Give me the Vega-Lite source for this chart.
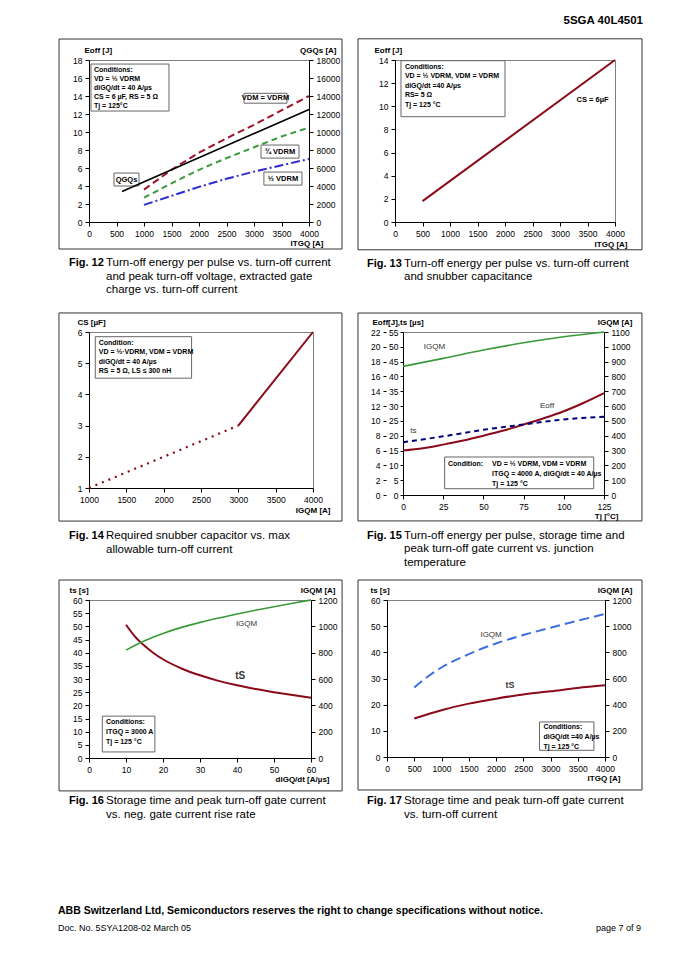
{
"$schema":"https://vega.github.io/schema/vega-lite/v6.json",
"background":"white",
"padding":{"left":57,"top":15,"right":38,"bottom":5},
"title":{"text":"5SGA 40L4501","anchor":"end","fontSize":11.5,"fontWeight":"bold","offset":11,"frame":"bounds"},
"spacing":9,
"vconcat":[
{"spacing":14,"vconcat":[
{"hconcat":[
{"width":220,"height":162,"data":{"values":[{}]},
"title":{"text":["Turn-off energy per pulse vs. turn-off current","and peak turn-off voltage, extracted gate","charge vs. turn-off current"],"orient":"bottom","anchor":"start","frame":"group","dx":17,"offset":-11,"fontSize":11.5,"fontWeight":"normal","lineHeight":13.5,"limit":0},
"layer":[
{"layer":[
{"mark":{"type":"rect","fillOpacity":0,"stroke":"#333","strokeWidth":1},"encoding":{"x":{"datum":-545,"type":"quantitative"},"x2":{"datum":4600},"y":{"datum":-3.0,"type":"quantitative"},"y2":{"datum":20.33}}},
{"data":{"values":[
{"I":1000,"E":3.6,"s":"VDM = VDRM"},{"I":1500,"E":5.8,"s":"VDM = VDRM"},{"I":2000,"E":7.7,"s":"VDM = VDRM"},{"I":2500,"E":9.3,"s":"VDM = VDRM"},{"I":3000,"E":10.8,"s":"VDM = VDRM"},{"I":3500,"E":12.4,"s":"VDM = VDRM"},{"I":4000,"E":14.0,"s":"VDM = VDRM"},
{"I":1000,"E":2.7,"s":"3/4 VDRM"},{"I":1500,"E":4.3,"s":"3/4 VDRM"},{"I":2000,"E":5.8,"s":"3/4 VDRM"},{"I":2500,"E":7.1,"s":"3/4 VDRM"},{"I":3000,"E":8.3,"s":"3/4 VDRM"},{"I":3500,"E":9.5,"s":"3/4 VDRM"},{"I":4000,"E":10.5,"s":"3/4 VDRM"},
{"I":1000,"E":1.9,"s":"1/2 VDRM"},{"I":1500,"E":2.9,"s":"1/2 VDRM"},{"I":2000,"E":3.9,"s":"1/2 VDRM"},{"I":2500,"E":4.8,"s":"1/2 VDRM"},{"I":3000,"E":5.6,"s":"1/2 VDRM"},{"I":3500,"E":6.3,"s":"1/2 VDRM"},{"I":4000,"E":7.0,"s":"1/2 VDRM"}]},
"mark":{"type":"line","strokeWidth":2},
"encoding":{
"x":{"field":"I","type":"quantitative","title":"ITGQ [A]","scale":{"domain":[0,4000],"nice":false,"zero":false},"axis":{"values":[0,500,1000,1500,2000,2500,3000,3500,4000],"tickCount":100,"format":"d","titleX":234,"titleY":17}},
"y":{"field":"E","type":"quantitative","title":"Eoff [J]","scale":{"domain":[0,18],"nice":false},"axis":{"values":[0,2,4,6,8,10,12,14,16,18],"tickCount":100,"format":"d","titleX":-5,"titleY":-6}},
"color":{"field":"s","type":"nominal","scale":{"domain":["VDM = VDRM","3/4 VDRM","1/2 VDRM"],"range":["#a0102a","#3a9a3a","#2b2bd0"]},"legend":null},
"strokeDash":{"field":"s","type":"nominal","scale":{"domain":["VDM = VDRM","3/4 VDRM","1/2 VDRM"],"range":[[7,4],[6,4],[9,3,2,3]]},"legend":null}}},
{"mark":{"type":"rect","fill":"white","stroke":"#666","strokeWidth":1},"encoding":{"x":{"datum":36,"type":"quantitative"},"x2":{"datum":1454},"y":{"datum":12.33,"type":"quantitative"},"y2":{"datum":17.55}}},
{"mark":{"type":"text","text":["Conditions:","VD = ½ VDRM","diGQ/dt = 40 A/µs","CS = 6 µF, RS = 5 Ω","Tj = 125°C"],"align":"left","baseline":"top","fontSize":7,"fontWeight":"bold","lineHeight":9},"encoding":{"x":{"datum":90,"type":"quantitative"},"y":{"datum":17.3,"type":"quantitative"}}},
{"mark":{"type":"rect","fill":"white","stroke":"#666","strokeWidth":1},"encoding":{"x":{"datum":2818,"type":"quantitative"},"x2":{"datum":3600},"y":{"datum":13.2,"type":"quantitative"},"y2":{"datum":14.3}}},
{"mark":{"type":"text","text":"VDM = VDRM","align":"center","baseline":"middle","fontSize":7.5,"fontWeight":"bold"},"encoding":{"x":{"datum":3209,"type":"quantitative"},"y":{"datum":13.75,"type":"quantitative"}}},
{"mark":{"type":"rect","fill":"white","stroke":"#666","strokeWidth":1},"encoding":{"x":{"datum":3127,"type":"quantitative"},"x2":{"datum":3818},"y":{"datum":7.1,"type":"quantitative"},"y2":{"datum":8.55}}},
{"mark":{"type":"text","text":"¾ VDRM","align":"center","baseline":"middle","fontSize":7.5,"fontWeight":"bold"},"encoding":{"x":{"datum":3472,"type":"quantitative"},"y":{"datum":7.82,"type":"quantitative"}}},
{"mark":{"type":"rect","fill":"white","stroke":"#666","strokeWidth":1},"encoding":{"x":{"datum":3180,"type":"quantitative"},"x2":{"datum":3872},"y":{"datum":4.1,"type":"quantitative"},"y2":{"datum":5.55}}},
{"mark":{"type":"text","text":"½ VDRM","align":"center","baseline":"middle","fontSize":7.5,"fontWeight":"bold"},"encoding":{"x":{"datum":3526,"type":"quantitative"},"y":{"datum":4.82,"type":"quantitative"}}},
{"mark":{"type":"rect","fill":"white","stroke":"#666","strokeWidth":1},"encoding":{"x":{"datum":455,"type":"quantitative"},"x2":{"datum":909},"y":{"datum":4.0,"type":"quantitative"},"y2":{"datum":5.44}}},
{"mark":{"type":"text","text":"QGQs","align":"center","baseline":"middle","fontSize":7.5,"fontWeight":"bold"},"encoding":{"x":{"datum":682,"type":"quantitative"},"y":{"datum":4.72,"type":"quantitative"}}},
{"mark":{"type":"text","text":"Fig. 12","align":"left","baseline":"top","fontSize":11,"fontWeight":"bold","color":"#000"},"encoding":{"x":{"datum":-364,"type":"quantitative"},"y":{"datum":-3.94,"type":"quantitative"}}}
]},
{"layer":[
{"data":{"values":[{"I":600,"Q":3400},{"I":4000,"Q":12500}]},
"mark":{"type":"line","color":"black","strokeWidth":1.6},
"encoding":{
"x":{"field":"I","type":"quantitative","title":"ITGQ [A]"},
"y":{"field":"Q","type":"quantitative","title":"QGQs [A]","scale":{"domain":[0,18000],"nice":false},"axis":{"orient":"right","values":[0,2000,4000,6000,8000,10000,12000,14000,16000,18000],"tickCount":100,"format":"d","grid":false,"titleX":27,"titleY":-6}}}}
]}
],
"resolve":{"scale":{"y":"independent"}}},

{"width":220,"height":162,"data":{"values":[{}]},
"title":{"text":["Turn-off energy per pulse vs. turn-off current","and snubber capacitance"],"orient":"bottom","anchor":"start","frame":"group","dx":9,"offset":-11,"fontSize":11.5,"fontWeight":"normal","lineHeight":13.5,"limit":0},
"layer":[
{"mark":{"type":"rect","fillOpacity":0,"stroke":"#333","strokeWidth":1},"encoding":{"x":{"datum":-673,"type":"quantitative"},"x2":{"datum":4491},"y":{"datum":-2.4,"type":"quantitative"},"y2":{"datum":15.83}}},
{"data":{"values":[{"I":500,"E":1.8},{"I":4000,"E":14}]},
"mark":{"type":"line","color":"#8b0a1a","strokeWidth":2},
"encoding":{
"x":{"field":"I","type":"quantitative","title":"ITGQ [A]","scale":{"domain":[0,4000],"nice":false,"zero":false},"axis":{"values":[0,500,1000,1500,2000,2500,3000,3500,4000],"tickCount":100,"format":"d","titleX":232,"titleY":18}},
"y":{"field":"E","type":"quantitative","title":"Eoff [J]","scale":{"domain":[0,14],"nice":false},"axis":{"values":[0,2,4,6,8,10,12,14],"tickCount":100,"format":"d","titleX":-21,"titleY":-6}}}},
{"mark":{"type":"rect","fill":"white","stroke":"#666","strokeWidth":1},"encoding":{"x":{"datum":109,"type":"quantitative"},"x2":{"datum":2000},"y":{"datum":9.1,"type":"quantitative"},"y2":{"datum":13.94}}},
{"mark":{"type":"text","text":["Conditions:","VD = ½ VDRM, VDM = VDRM","diGQ/dt =40 A/µs","RS= 5 Ω","Tj = 125 °C"],"align":"left","baseline":"top","fontSize":7,"fontWeight":"bold","lineHeight":9.5},"encoding":{"x":{"datum":180,"type":"quantitative"},"y":{"datum":13.75,"type":"quantitative"}}},
{"mark":{"type":"text","text":"CS = 6µF","align":"left","baseline":"middle","fontSize":7.5,"fontWeight":"bold"},"encoding":{"x":{"datum":3300,"type":"quantitative"},"y":{"datum":10.55,"type":"quantitative"}}},
{"mark":{"type":"text","text":"Fig. 13","align":"left","baseline":"top","fontSize":11,"fontWeight":"bold","color":"#000"},"encoding":{"x":{"datum":-509,"type":"quantitative"},"y":{"datum":-3.07,"type":"quantitative"}}}
]}
],"spacing":86,"bounds":"flush"},

{"hconcat":[
{"width":224,"height":156,"data":{"values":[{}]},
"title":{"text":["Required snubber capacitor vs. max","allowable turn-off current"],"orient":"bottom","anchor":"start","frame":"group","dx":17,"offset":-11,"fontSize":11.5,"fontWeight":"normal","lineHeight":13.5,"limit":0},
"layer":[
{"mark":{"type":"rect","fillOpacity":0,"stroke":"#333","strokeWidth":1},"encoding":{"x":{"datum":598,"type":"quantitative"},"x2":{"datum":4388},"y":{"datum":-0.06,"type":"quantitative"},"y2":{"datum":6.61}}},
{"data":{"values":[{"I":1000,"C":1},{"I":3000,"C":3}]},
"mark":{"type":"line","color":"#8b0a1a","strokeWidth":2.2,"strokeDash":[2,5],"strokeCap":"butt"},
"encoding":{
"x":{"field":"I","type":"quantitative","title":"IGQM [A]","scale":{"domain":[1000,4000],"nice":false,"zero":false},"axis":{"values":[1000,1500,2000,2500,3000,3500,4000],"tickCount":100,"format":"d","titleX":241,"titleY":18}},
"y":{"field":"C","type":"quantitative","title":"CS [µF]","scale":{"domain":[1,6],"nice":false,"zero":false},"axis":{"values":[1,2,3,4,5,6],"tickCount":100,"format":"d","titleX":-12,"titleY":-6}}}},
{"data":{"values":[{"I":3000,"C":3},{"I":4000,"C":6}]},
"mark":{"type":"line","color":"#8b0a1a","strokeWidth":2},
"encoding":{
"x":{"field":"I","type":"quantitative","title":"IGQM [A]"},
"y":{"field":"C","type":"quantitative","title":"CS [µF]"}}},
{"mark":{"type":"rect","fill":"white","stroke":"#666","strokeWidth":1},"encoding":{"x":{"datum":1084,"type":"quantitative"},"x2":{"datum":2374},"y":{"datum":4.52,"type":"quantitative"},"y2":{"datum":5.85}}},
{"mark":{"type":"text","text":["Condition:","VD = ½·VDRM, VDM = VDRM","diGQ/dt = 40 A/µs","RS = 5 Ω, LS ≤ 300 nH"],"align":"left","baseline":"top","fontSize":7,"fontWeight":"bold","lineHeight":9.5},"encoding":{"x":{"datum":1130,"type":"quantitative"},"y":{"datum":5.78,"type":"quantitative"}}},
{"mark":{"type":"text","text":"Fig. 14","align":"left","baseline":"top","fontSize":11,"fontWeight":"bold","color":"#000"},"encoding":{"x":{"datum":732,"type":"quantitative"},"y":{"datum":-0.35,"type":"quantitative"}}}
]},

{"width":201,"height":163,"data":{"values":[{}]},
"title":{"text":["Turn-off energy per pulse, storage time and","peak turn-off gate current vs. junction","temperature"],"orient":"bottom","anchor":"start","frame":"group","dx":1,"offset":-11,"fontSize":11.5,"fontWeight":"normal","lineHeight":13.5,"limit":0},
"layer":[
{"layer":[
{"mark":{"type":"rect","fillOpacity":0,"stroke":"#333","strokeWidth":1},"encoding":{"x":{"datum":-28,"type":"quantitative"},"x2":{"datum":148.6},"y":{"datum":-3.5,"type":"quantitative"},"y2":{"datum":24.56}}},
{"data":{"values":[{"T":0,"E":6.0},{"T":12.5,"E":6.3},{"T":25,"E":6.8},{"T":37.5,"E":7.35},{"T":50,"E":8.0},{"T":62.5,"E":8.7},{"T":75,"E":9.5},{"T":87.5,"E":10.35},{"T":100,"E":11.3},{"T":112.5,"E":12.45},{"T":125,"E":13.75}]},
"mark":{"type":"line","color":"#8b0a1a","strokeWidth":2,"interpolate":"monotone"},
"encoding":{
"x":{"field":"T","type":"quantitative","title":"Tj [°C]","scale":{"domain":[0,125],"nice":false,"zero":false},"axis":{"values":[0,25,50,75,100,125],"tickCount":100,"format":"d","titleX":215,"titleY":17}},
"y":{"field":"E","type":"quantitative","title":"Eoff[J],ts [µs]","scale":{"domain":[0,22],"nice":false},"axis":{"values":[0,2,4,6,8,10,12,14,16,18,20,22],"tickCount":100,"format":"d","offset":17,"domain":false,"tickSize":3,"titleX":-14,"titleY":-6}}}},
{"mark":{"type":"rect","fill":"white","stroke":"#666","strokeWidth":1},"encoding":{"x":{"datum":25.9,"type":"quantitative"},"x2":{"datum":118.6},"y":{"datum":0.85,"type":"quantitative"},"y2":{"datum":5.13}}},
{"mark":{"type":"text","text":"Condition:","align":"left","baseline":"top","fontSize":7,"fontWeight":"bold"},"encoding":{"x":{"datum":28,"type":"quantitative"},"y":{"datum":4.75,"type":"quantitative"}}},
{"mark":{"type":"text","text":["VD = ½ VDRM, VDM = VDRM","ITGQ = 4000 A, diGQ/dt = 40 A/µs","Tj = 125 °C"],"align":"left","baseline":"top","fontSize":7,"fontWeight":"bold","lineHeight":10},"encoding":{"x":{"datum":55.4,"type":"quantitative"},"y":{"datum":4.75,"type":"quantitative"}}},
{"mark":{"type":"text","text":"Eoff","align":"center","baseline":"bottom","fontSize":8,"color":"#333"},"encoding":{"x":{"datum":89.6,"type":"quantitative"},"y":{"datum":11.5,"type":"quantitative"}}},
{"mark":{"type":"text","text":"Fig. 15","align":"left","baseline":"top","fontSize":11,"fontWeight":"bold","color":"#000"},"encoding":{"x":{"datum":-22.4,"type":"quantitative"},"y":{"datum":-4.72,"type":"quantitative"}}}
]},
{"layer":[
{"data":{"values":[{"T":0,"t":17.8},{"T":25,"t":19.8},{"T":50,"t":22.0},{"T":75,"t":23.8},{"T":100,"t":25.5},{"T":125,"t":26.4}]},
"mark":{"type":"line","color":"#00007f","strokeWidth":2,"strokeDash":[5,4],"interpolate":"monotone"},
"encoding":{
"x":{"field":"T","type":"quantitative","title":"Tj [°C]"},
"y":{"field":"t","type":"quantitative","scale":{"domain":[0,55],"nice":false},"axis":{"orient":"left","values":[0,5,10,15,20,25,30,35,40,45,50,55],"tickCount":100,"format":"d","grid":false,"title":null,"tickSize":3,"labelPadding":2}}}},
{"mark":{"type":"text","text":"ts","align":"left","baseline":"bottom","fontSize":8,"color":"#333"},"encoding":{"x":{"datum":4.5,"type":"quantitative"},"y":{"datum":20.2,"type":"quantitative"}}}
]},
{"layer":[
{"data":{"values":[{"T":0,"G":868},{"T":25,"G":922},{"T":50,"G":978},{"T":75,"G":1027},{"T":100,"G":1068},{"T":125,"G":1100}]},
"mark":{"type":"line","color":"#3a9a3a","strokeWidth":1.6,"interpolate":"monotone"},
"encoding":{
"x":{"field":"T","type":"quantitative","title":"Tj [°C]"},
"y":{"field":"G","type":"quantitative","title":"IGQM [A]","scale":{"domain":[0,1100],"nice":false},"axis":{"orient":"right","values":[0,100,200,300,400,500,600,700,800,900,1000,1100],"tickCount":100,"format":"d","grid":false,"titleX":28,"titleY":-6}}}},
{"mark":{"type":"text","text":"IGQM","align":"left","baseline":"middle","fontSize":8,"color":"#333"},"encoding":{"x":{"datum":12.9,"type":"quantitative"},"y":{"datum":999,"type":"quantitative"}}}
]}
],
"resolve":{"scale":{"y":"independent"}}}
],"spacing":90,"bounds":"flush"}
]},

{"hconcat":[
{"width":222,"height":158,"data":{"values":[{}]},
"title":{"text":["Storage time and peak turn-off gate current","vs. neg. gate current rise rate"],"orient":"bottom","anchor":"start","frame":"group","dx":17,"offset":-11,"fontSize":11.5,"fontWeight":"normal","lineHeight":13.5,"limit":0},
"layer":[
{"layer":[
{"mark":{"type":"rect","fillOpacity":0,"stroke":"#333","strokeWidth":1},"encoding":{"x":{"datum":-8.1,"type":"quantitative"},"x2":{"datum":68.4},"y":{"datum":-12.5,"type":"quantitative"},"y2":{"datum":67.6}}},
{"data":{"values":[{"r":10,"t":50.6},{"r":12.5,"t":46.0},{"r":15,"t":42.6},{"r":17.5,"t":39.8},{"r":20,"t":37.5},{"r":25,"t":34.0},{"r":30,"t":31.4},{"r":35,"t":29.3},{"r":40,"t":27.6},{"r":45,"t":26.2},{"r":50,"t":25.0},{"r":55,"t":23.9},{"r":60,"t":22.9}]},
"mark":{"type":"line","color":"#8b0a1a","strokeWidth":2,"interpolate":"monotone"},
"encoding":{
"x":{"field":"r","type":"quantitative","title":"diGQ/dt [A/µs]","scale":{"domain":[0,60],"nice":false,"zero":false},"axis":{"values":[0,10,20,30,40,50,60],"tickCount":100,"format":"d","titleX":240,"titleY":17}},
"y":{"field":"t","type":"quantitative","title":"ts [s]","scale":{"domain":[0,60],"nice":false},"axis":{"values":[0,5,10,15,20,25,30,35,40,45,50,55,60],"tickCount":100,"format":"d","titleX":-20,"titleY":-6}}}},
{"mark":{"type":"rect","fill":"white","stroke":"#666","strokeWidth":1},"encoding":{"x":{"datum":3.6,"type":"quantitative"},"x2":{"datum":17.8},"y":{"datum":2.3,"type":"quantitative"},"y2":{"datum":15.9}}},
{"mark":{"type":"text","text":["Conditions:","ITGQ = 3000 A","Tj = 125 °C"],"align":"left","baseline":"top","fontSize":7,"fontWeight":"bold","lineHeight":10},"encoding":{"x":{"datum":4.6,"type":"quantitative"},"y":{"datum":15.2,"type":"quantitative"}}},
{"mark":{"type":"text","text":"IGQM","align":"left","baseline":"middle","fontSize":8,"color":"#333"},"encoding":{"x":{"datum":39.7,"type":"quantitative"},"y":{"datum":50.9,"type":"quantitative"}}},
{"mark":{"type":"text","text":"tS","align":"left","baseline":"middle","fontSize":10,"fontWeight":"bold","color":"#333"},"encoding":{"x":{"datum":39.5,"type":"quantitative"},"y":{"datum":31.1,"type":"quantitative"}}},
{"mark":{"type":"text","text":"Fig. 16","align":"left","baseline":"top","fontSize":11,"fontWeight":"bold","color":"#000"},"encoding":{"x":{"datum":-5.4,"type":"quantitative"},"y":{"datum":-14.24,"type":"quantitative"}}}
]},
{"layer":[
{"data":{"values":[{"r":10,"G":819},{"r":15,"G":890},{"r":20,"G":946},{"r":25,"G":992},{"r":30,"G":1030},{"r":35,"G":1063},{"r":40,"G":1093},{"r":45,"G":1122},{"r":50,"G":1149},{"r":55,"G":1175},{"r":60,"G":1200}]},
"mark":{"type":"line","color":"#3a9a3a","strokeWidth":1.6,"interpolate":"monotone"},
"encoding":{
"x":{"field":"r","type":"quantitative","title":"diGQ/dt [A/µs]"},
"y":{"field":"G","type":"quantitative","title":"IGQM [A]","scale":{"domain":[0,1200],"nice":false},"axis":{"orient":"right","values":[0,200,400,600,800,1000,1200],"tickCount":100,"format":"d","grid":false,"titleX":24,"titleY":-6}}}}
]}
],
"resolve":{"scale":{"y":"independent"}}},

{"width":218,"height":157,"data":{"values":[{}]},
"title":{"text":["Storage time and peak turn-off gate current","vs. turn-off current"],"orient":"bottom","anchor":"start","frame":"group","dx":17,"offset":-11,"fontSize":11.5,"fontWeight":"normal","lineHeight":13.5,"limit":0},
"layer":[
{"layer":[
{"mark":{"type":"rect","fillOpacity":0,"stroke":"#333","strokeWidth":1},"encoding":{"x":{"datum":-532,"type":"quantitative"},"x2":{"datum":4679},"y":{"datum":-12.6,"type":"quantitative"},"y2":{"datum":67.64}}},
{"data":{"values":[{"I":500,"t":14.7},{"I":1000,"t":17.9},{"I":1500,"t":20.4},{"I":2000,"t":22.3},{"I":2500,"t":23.9},{"I":3000,"t":25.1},{"I":3500,"t":26.4},{"I":4000,"t":27.4}]},
"mark":{"type":"line","color":"#8b0a1a","strokeWidth":2,"interpolate":"monotone"},
"encoding":{
"x":{"field":"I","type":"quantitative","title":"ITGQ [A]","scale":{"domain":[0,4000],"nice":false,"zero":false},"axis":{"values":[0,500,1000,1500,2000,2500,3000,3500,4000],"tickCount":100,"format":"d","titleX":233,"titleY":17}},
"y":{"field":"t","type":"quantitative","title":"ts [s]","scale":{"domain":[0,60],"nice":false},"axis":{"values":[0,10,20,30,40,50,60],"tickCount":100,"format":"d","titleX":-17,"titleY":-6}}}},
{"mark":{"type":"rect","fill":"white","stroke":"#666","strokeWidth":1},"encoding":{"x":{"datum":2798,"type":"quantitative"},"x2":{"datum":3797},"y":{"datum":2.56,"type":"quantitative"},"y2":{"datum":13.4}}},
{"mark":{"type":"text","text":["Conditions:","diGQ/dt =40 A/µs","Tj = 125 °C"],"align":"left","baseline":"top","fontSize":7,"fontWeight":"bold","lineHeight":10},"encoding":{"x":{"datum":2870,"type":"quantitative"},"y":{"datum":12.9,"type":"quantitative"}}},
{"mark":{"type":"text","text":"IGQM","align":"left","baseline":"middle","fontSize":8,"color":"#333"},"encoding":{"x":{"datum":1714,"type":"quantitative"},"y":{"datum":46.5,"type":"quantitative"}}},
{"mark":{"type":"text","text":"tS","align":"left","baseline":"middle","fontSize":9,"fontWeight":"bold","color":"#333"},"encoding":{"x":{"datum":2173,"type":"quantitative"},"y":{"datum":27.6,"type":"quantitative"}}},
{"mark":{"type":"text","text":"Fig. 17","align":"left","baseline":"top","fontSize":11,"fontWeight":"bold","color":"#000"},"encoding":{"x":{"datum":-367,"type":"quantitative"},"y":{"datum":-14.7,"type":"quantitative"}}}
]},
{"layer":[
{"data":{"values":[{"I":500,"G":531},{"I":750,"G":615},{"I":1000,"G":684},{"I":1500,"G":786},{"I":2000,"G":868},{"I":2500,"G":932},{"I":3000,"G":988},{"I":3500,"G":1042},{"I":4000,"G":1093}]},
"mark":{"type":"line","color":"#3d6fe0","strokeWidth":2,"strokeDash":[10,5],"interpolate":"monotone"},
"encoding":{
"x":{"field":"I","type":"quantitative","title":"ITGQ [A]"},
"y":{"field":"G","type":"quantitative","title":"IGQM [A]","scale":{"domain":[0,1200],"nice":false},"axis":{"orient":"right","values":[0,200,400,600,800,1000,1200],"tickCount":100,"format":"d","grid":false,"titleX":27,"titleY":-6}}}}
]}
],
"resolve":{"scale":{"y":"independent"}}}
],"spacing":76,"bounds":"flush",
"title":{"text":"ABB Switzerland Ltd, Semiconductors reserves the right to change specifications without notice.","subtitle":"Doc. No. 5SYA1208-02 March 05\u2003\u2003\u2003\u2003\u2003\u2003\u2003\u2003\u2003\u2003\u2003\u2003\u2003\u2003\u2003\u2003\u2003\u2003\u2003\u2003\u2003\u2003\u2003\u2003\u2003\u2003\u2003\u2003\u2003\u2003\u2003\u2003\u2003\u2003\u2003\u2003\u2003\u2003\u2003\u2003\u2003\u2003\u2003\u2003\u2003page 7 of 9","orient":"bottom","anchor":"start","frame":"bounds","offset":85,"fontSize":10.5,"fontWeight":"bold","subtitleFontSize":9,"subtitlePadding":8,"limit":0}}
],
"config":{
"font":"Liberation Sans",
"view":{"stroke":"#808080","strokeWidth":1},
"axis":{"labelFont":"Liberation Sans","labelFontSize":8.5,"labelColor":"#000","titleFont":"Liberation Sans","titleFontSize":8,"titleFontWeight":"bold","titleColor":"#000","domainColor":"#000","tickColor":"#000","tickSize":4,"tickCount":100,"format":"d","gridColor":"#808080","gridWidth":1,"labelPadding":3,"titleAngle":0,"labelFlush":false,"labelOverlap":false},
"axisLeft":{"titleAlign":"left","titleBaseline":"bottom"},
"axisRight":{"titleAlign":"right","titleBaseline":"bottom"},
"axisBottom":{"titleAlign":"right","titleBaseline":"top"},
"title":{"font":"Liberation Sans","color":"#000","subtitleFont":"Liberation Sans","subtitleColor":"#000"},
"text":{"font":"Liberation Sans"}
}
}
